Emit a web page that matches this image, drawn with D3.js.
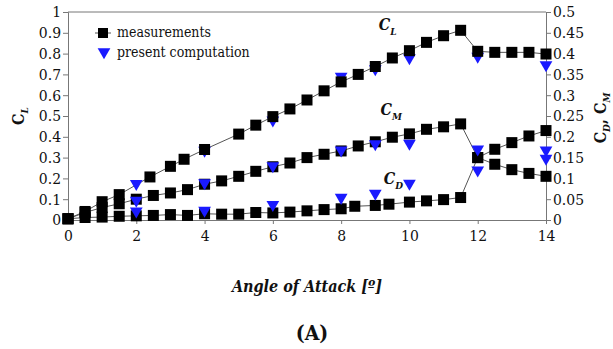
<!DOCTYPE html>
<html>
<head>
<meta charset="utf-8">
<script src="https://cdn.jsdelivr.net/npm/d3@7"></script>
<style>
  body { margin: 0; background: #fff; }
  text { font-family: "DejaVu Serif Condensed", "DejaVu Serif", serif; font-stretch: condensed; fill: #111; }
</style>
</head>
<body>
<div id="chart"></div>
<script>
// measurements (squares)
const clAngle = [0, 0.5, 1, 1.5, 2.4, 3, 3.4, 4, 5, 5.5, 6, 6.5, 7, 7.5, 8, 8.5, 9, 9.5, 10, 10.5, 11, 11.5, 12, 12.5, 13, 13.5, 14];
const clMeas = [0.006, 0.041, 0.088, 0.122, 0.207, 0.258, 0.292, 0.339, 0.413, 0.456, 0.497, 0.534, 0.577, 0.621, 0.664, 0.700, 0.738, 0.779, 0.814, 0.854, 0.886, 0.912, 0.811, 0.806, 0.806, 0.806, 0.798];

const cmAngle = [0, 0.5, 1, 1.5, 2, 2.5, 3, 3.5, 4, 4.5, 5, 5.5, 6, 6.5, 7, 7.5, 8, 8.5, 9, 9.5, 10, 10.5, 11, 11.5, 12, 12.5, 13, 13.5, 14];
const cmMeas = [0.003, 0.018, 0.030, 0.039, 0.050, 0.059, 0.065, 0.073, 0.086, 0.094, 0.105, 0.117, 0.128, 0.137, 0.150, 0.158, 0.166, 0.178, 0.188, 0.199, 0.207, 0.218, 0.224, 0.231, 0.150, 0.170, 0.186, 0.202, 0.215];

const cdAngle = [0, 0.5, 1, 1.5, 2, 2.5, 3, 3.5, 4, 4.5, 5, 5.5, 6, 6.5, 7, 7.5, 8, 8.4, 9, 9.4, 10, 10.5, 11, 11.5, 12, 12.5, 13, 13.5, 14];
const cdMeas = [0.003, 0.006, 0.007, 0.009, 0.010, 0.011, 0.013, 0.011, 0.015, 0.014, 0.014, 0.018, 0.017, 0.019, 0.022, 0.025, 0.027, 0.033, 0.035, 0.038, 0.043, 0.046, 0.049, 0.054, 0.150, 0.134, 0.121, 0.112, 0.105];

// present computation (triangles)
const compAngle = [2, 4, 6, 8, 9, 10, 12, 14];
const clComp = [0.175, 0.335, 0.480, 0.690, 0.726, 0.779, 0.787, 0.746];
const cmComp = [0.047, 0.089, 0.130, 0.168, 0.183, 0.184, 0.170, 0.168];
const cdComp = [0.021, 0.023, 0.037, 0.054, 0.064, 0.088, 0.120, 0.148];

const xTicks = [0, 2, 4, 6, 8, 10, 12, 14];

const W = 613, H = 349;
const margin = { left: 68, right: 67, top: 12, bottom: 129 };
const innerW = W - margin.left - margin.right;
const innerH = H - margin.top - margin.bottom;

const svg = d3.select("#chart").append("svg")
  .attr("width", W).attr("height", H);

const g = svg.append("g")
  .attr("transform", `translate(${margin.left},${margin.top})`);

const x = d3.scaleLinear().domain([0, 14]).range([0, innerW]);
const yL = d3.scaleLinear().domain([0, 1]).range([innerH, 0]);
const yR = d3.scaleLinear().domain([0, 0.5]).range([innerH, 0]);

const axisColor = "#777";

// frame top line
g.append("line")
  .attr("x1", 0).attr("x2", innerW).attr("y1", 0).attr("y2", 0)
  .attr("stroke", axisColor);

const axL = g.append("g")
  .call(d3.axisLeft(yL).tickValues(d3.range(0, 1.01, 0.1))
    .tickFormat(d => String(+d.toFixed(1))).tickSize(5).tickPadding(2));
const axR = g.append("g").attr("transform", `translate(${innerW},0)`)
  .call(d3.axisRight(yR).tickValues(d3.range(0, 0.501, 0.05))
    .tickFormat(d => String(+d.toFixed(2))).tickSize(5).tickPadding(2));
const axB = g.append("g").attr("transform", `translate(0,${innerH})`)
  .call(d3.axisBottom(x).tickValues(xTicks).tickSize(4).tickPadding(6));

[axL, axR, axB].forEach(a => {
  a.selectAll("path, line").attr("stroke", axisColor);
  a.selectAll("text").style("font-family", null)
    .style("font-size", "15.5px").attr("fill", "#222");
});

const line = d3.line().x(d => x(d[0]));

function drawLine(ang, vals, y) {
  g.append("path")
    .datum(ang.map((a, i) => [a, vals[i]]))
    .attr("fill", "none")
    .attr("stroke", "#555")
    .attr("stroke-width", 1)
    .attr("d", line.y(d => y(d[1])));
}

function drawSquares(ang, vals, y) {
  g.append("g").selectAll("rect")
    .data(ang.map((a, i) => [a, vals[i]]))
    .join("rect")
    .attr("x", d => x(d[0]) - 5.5)
    .attr("y", d => y(d[1]) - 5.5)
    .attr("width", 11).attr("height", 11)
    .attr("fill", "#000");
}

const tri = d3.symbol().type(d3.symbolTriangle).size(70);

function drawTriangles(ang, vals, y) {
  g.append("g").selectAll("path")
    .data(ang.map((a, i) => [a, vals[i]]))
    .join("path")
    .attr("d", tri)
    .attr("transform", d => `translate(${x(d[0])},${y(d[1])}) rotate(180)`)
    .attr("fill", "#1a1aff");
}

drawLine(clAngle, clMeas, yL);
drawLine(cmAngle, cmMeas, yR);
drawLine(cdAngle, cdMeas, yR);
drawSquares(cmAngle, cmMeas, yR);
drawSquares(cdAngle, cdMeas, yR);
drawTriangles(compAngle, clComp, yL);
drawTriangles(compAngle, cmComp, yR);
drawTriangles(compAngle, cdComp, yR);
drawSquares(clAngle, clMeas, yL);

// curve labels
function coefLabel(px, py, sub) {
  const t = g.append("text")
    .attr("x", px).attr("y", py)
    .style("font-weight", "bold").style("font-style", "italic")
    .style("font-size", "16px");
  t.append("tspan").text("C");
  t.append("tspan").attr("dy", 5).style("font-size", "10px").text(sub);
}
coefLabel(x(9.1) , 30 - margin.top, "L");
coefLabel(x(9.15), 115 - margin.top, "M");
coefLabel(x(9.25), 184 - margin.top, "D");

// legend
const lg = g.append("g").attr("transform", "translate(27,21)");
lg.append("line").attr("x1", 0).attr("x2", 16).attr("stroke", "#555");
lg.append("rect").attr("x", 3).attr("y", -5).attr("width", 10).attr("height", 10).attr("fill", "#000");
lg.append("text").attr("x", 22).attr("y", 4).style("font-size", "14px").text("measurements");
lg.append("path").attr("d", tri).attr("transform", "translate(9,19) rotate(180)").attr("fill", "#1a1aff");
lg.append("text").attr("x", 22).attr("y", 24).style("font-size", "14px").text("present computation");

// axis titles
svg.append("text")
  .attr("x", margin.left + innerW / 2).attr("y", 292)
  .attr("text-anchor", "middle")
  .style("font-weight", "bold").style("font-style", "italic").style("font-size", "16px")
  .text("Angle of Attack [º]");

const yl = svg.append("text")
  .attr("transform", "translate(24,116) rotate(-90)")
  .attr("text-anchor", "middle")
  .style("font-weight", "bold").style("font-size", "16px");
yl.append("tspan").text("C");
yl.append("tspan").attr("dy", 4).style("font-size", "10px").style("font-style", "italic").text("L");

const yr = svg.append("text")
  .attr("transform", "translate(606,118) rotate(-90)")
  .attr("text-anchor", "middle")
  .style("font-weight", "bold").style("font-size", "16px");
yr.append("tspan").text("C");
yr.append("tspan").attr("dy", 4).style("font-size", "10px").style("font-style", "italic").text("D");
yr.append("tspan").attr("dy", -4).text(", C");
yr.append("tspan").attr("dy", 4).style("font-size", "10px").style("font-style", "italic").text("M");

svg.append("text")
  .attr("x", 312).attr("y", 340)
  .attr("text-anchor", "middle")
  .style("font-weight", "bold").style("font-size", "21px")
  .text("(A)");
</script>
</body>
</html>
